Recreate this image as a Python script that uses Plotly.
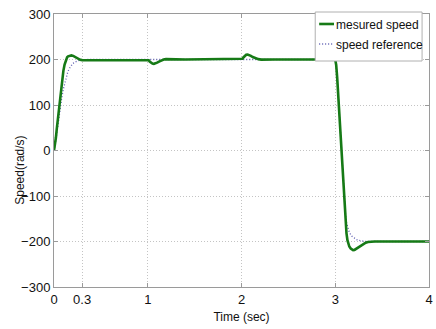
import plotly.graph_objects as go

# Measured rotor speed (rad/s) against time (s)
t_meas = [0, 0.01, 0.02, 0.03, 0.04, 0.05, 0.056, 0.07, 0.08, 0.09, 0.10, 0.113, 0.126, 0.14, 0.15,
          0.165, 0.186, 0.205, 0.22, 0.24, 0.26, 0.28, 0.30, 0.33, 0.36, 0.40, 0.45,
          1.0, 1.01, 1.02, 1.035, 1.05, 1.065, 1.08, 1.10, 1.12, 1.145, 1.17, 1.195, 1.22, 1.26, 1.30, 1.40,
          2.0, 2.01, 2.02, 2.035, 2.05, 2.065, 2.08, 2.10, 2.12, 2.15, 2.18, 2.21, 2.25, 2.30, 2.35,
          3.0, 3.005, 3.01, 3.02, 3.04, 3.06, 3.08, 3.10, 3.11, 3.12, 3.13, 3.14, 3.15, 3.165, 3.178,
          3.19, 3.205, 3.22, 3.24, 3.26, 3.28, 3.30, 3.325, 3.35, 3.38, 3.42, 4.0]
w_meas = [0, 12, 28, 48, 68, 88, 100, 125, 145, 161, 175, 189, 199, 205, 207,
          208.5, 209, 208, 206, 203.5, 201, 199.3, 198.6, 198.6, 199, 199.6, 200,
          200, 198.5, 195.5, 192.5, 191, 190.5, 191, 193, 195.5, 198, 199.8, 200.8, 201, 200.7, 200.3, 200,
          200, 201.5, 204.5, 208.5, 210.5, 211, 210, 208, 205.5, 202.5, 200.8, 199.8, 199.5, 199.8, 200,
          200, 196, 188, 162, 92, 22, -58, -132, -160, -182, -197, -206, -211, -215.5, -218,
          -219, -218.5, -216.5, -213, -210, -207, -205, -202.5, -201, -200.3, -200, -200]

# Speed reference (rad/s)
t_ref = [0, 0.01, 0.02, 0.03, 0.04, 0.06, 0.08, 0.10, 0.115, 0.13, 0.145, 0.16, 0.18, 0.20, 0.225,
         0.25, 0.275, 0.30, 0.33, 0.36,
         3.0, 3.005, 3.01, 3.02, 3.04, 3.06, 3.08, 3.10, 3.11, 3.12, 3.135, 3.15, 3.175, 3.20,
         3.225, 3.25, 3.275, 3.30, 3.35, 4.0]
w_ref = [0, 8, 22, 38, 55, 85, 112, 135, 149, 161, 171, 179, 186, 191, 194.5,
         197, 198.5, 199.3, 199.8, 200,
         200, 196, 188, 162, 92, 22, -58, -122, -143, -158, -171, -180, -188, -192.5,
         -195.5, -197.5, -198.7, -199.3, -200, -200]

x_ticks = [0, 0.3, 1, 2, 3, 4]
x_tick_text = ["0", "0.3", "1", "2", "3", "4"]
y_ticks = [-300, -200, -100, 0, 100, 200, 300]

legend_names = ["mesured speed", "speed reference"]

GREEN = "#167a16"
BLUE = "#5c5cb0"
FONT = "Liberation Sans, Arial, sans-serif"

fig = go.Figure()
fig.add_trace(go.Scatter(x=t_ref, y=w_ref, mode="lines", name=legend_names[1],
                         line=dict(color=BLUE, width=1.3, dash="1px,2px")))
fig.add_trace(go.Scatter(x=t_meas, y=w_meas, mode="lines", name=legend_names[0],
                         line=dict(color=GREEN, width=2.6)))

axis_common = dict(showline=True, linecolor="#9a9a9a", linewidth=1, mirror="ticks",
                   ticks="inside", ticklen=4, tickcolor="#9a9a9a",
                   showgrid=True, gridcolor="#c4c4c4", griddash="1px,2px", gridwidth=1,
                   zeroline=False, ticklabeloverflow="allow",
                   tickfont=dict(family=FONT, size=13, color="#111"))

fig.update_xaxes(range=[0, 4], tickvals=x_ticks, ticktext=x_tick_text,
                 title=dict(text="Time (sec)", font=dict(family=FONT, size=12, color="#111"), standoff=7),
                 **axis_common)
fig.update_yaxes(range=[-300, 300], tickvals=y_ticks, **axis_common)

# Vertical axis label
fig.add_annotation(text="Speed(rad/s)", xref="paper", yref="paper", x=-0.0897, y=0.427,
                   xanchor="center", yanchor="middle", textangle=-90, showarrow=False,
                   font=dict(family=FONT, size=12, color="#111"))

# Legend box drawn in paper coordinates
fig.add_shape(type="rect", xref="paper", yref="paper", x0=0.6966, x1=0.9815, y0=0.8278, y1=1.0073,
              line=dict(color="#b0b0b0", width=1), fillcolor="white", layer="above")
fig.add_shape(type="line", xref="paper", yref="paper", x0=0.7071, x1=0.7467, y0=0.9634, y1=0.9634,
              line=dict(color=GREEN, width=2.6), layer="above")
fig.add_shape(type="line", xref="paper", yref="paper", x0=0.7071, x1=0.7467, y0=0.8901, y1=0.8901,
              line=dict(color=BLUE, width=1.3, dash="1px,2px"), layer="above")
for name, yp in zip(legend_names, [0.9597, 0.8864]):
    fig.add_annotation(text=name, xref="paper", yref="paper", x=0.746, y=yp,
                       xanchor="left", yanchor="middle", showarrow=False,
                       font=dict(family=FONT, size=12, color="#111"))

fig.update_layout(width=436, height=329, margin=dict(l=54, r=3, t=14, b=42),
                  paper_bgcolor="white", plot_bgcolor="white", showlegend=False)

fig.write_html("out.html")
